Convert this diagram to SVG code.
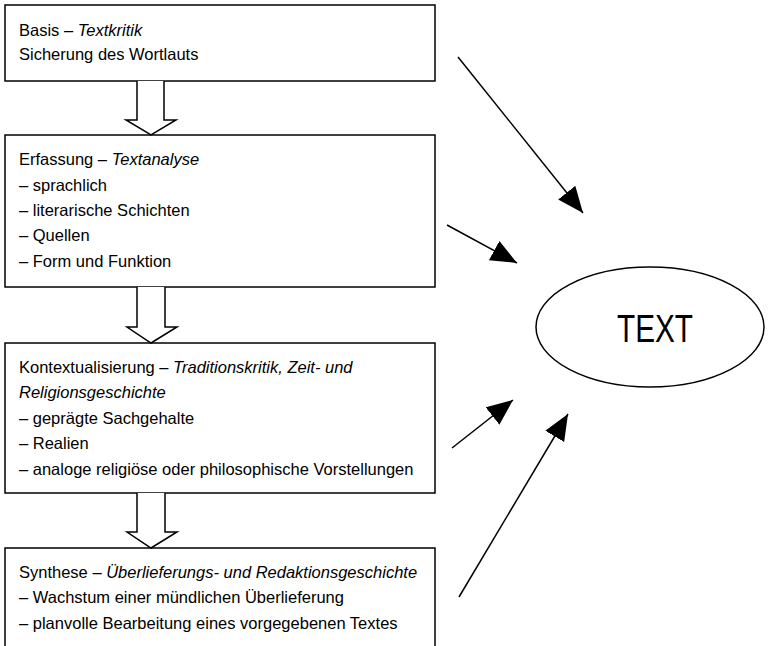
<svg xmlns="http://www.w3.org/2000/svg" width="769" height="646" viewBox="0 0 769 646">
<style>
.box{fill:#fff;stroke:#000;stroke-width:1.5}
.t{font-family:"Liberation Sans",Arial,sans-serif;font-size:16.5px;fill:#000}
.i{font-style:italic}
.hollow{fill:#fff;stroke:#000;stroke-width:1.5;stroke-linejoin:miter}
.conn{stroke:#000;stroke-width:1.5;fill:none}
.big{font-family:"Liberation Sans",Arial,sans-serif;font-size:39px;fill:#000}
</style>
<defs>
<marker id="ah" markerUnits="userSpaceOnUse" markerWidth="28" markerHeight="24" refX="26" refY="11" orient="auto">
<path d="M0,0 L26,11 L0,22 z" fill="#000"/>
</marker>
</defs>
<rect width="769" height="646" fill="#fff"/>
<g id="basis">
<rect class="box" x="5" y="5" width="430" height="76"/>
<text class="t" x="19" y="36">Basis – <tspan class="i">Textkritik</tspan></text>
<text class="t" x="19" y="60">Sicherung des Wortlauts</text>
</g>
<g id="erfassung">
<rect class="box" x="5" y="135" width="430" height="152"/>
<text class="t" x="19" y="165">Erfassung – <tspan class="i">Textanalyse</tspan></text>
<text class="t" x="19" y="191">– sprachlich</text>
<text class="t" x="19" y="216">– literarische Schichten</text>
<text class="t" x="19" y="241">– Quellen</text>
<text class="t" x="19" y="267">– Form und Funktion</text>
</g>
<g id="kontext">
<rect class="box" x="5" y="343" width="430" height="150"/>
<text class="t" x="19" y="373">Kontextualisierung – <tspan class="i">Traditionskritik, Zeit- und</tspan></text>
<text class="t i" x="19" y="398">Religionsgeschichte</text>
<text class="t" x="19" y="424">– geprägte Sachgehalte</text>
<text class="t" x="19" y="449">– Realien</text>
<text class="t" x="19" y="475">– analoge religiöse oder philosophische Vorstellungen</text>
</g>
<g id="synthese">
<rect class="box" x="5" y="548" width="430" height="110"/>
<text class="t" x="19" y="578">Synthese – <tspan class="i">Überlieferungs- und Redaktionsgeschichte</tspan></text>
<text class="t" x="19" y="603">– Wachstum einer mündlichen Überlieferung</text>
<text class="t" x="19" y="629">– planvolle Bearbeitung eines vorgegebenen Textes</text>
</g>
<g id="text-node">
<ellipse cx="650" cy="327" rx="114" ry="60" fill="#fff" stroke="#000" stroke-width="1.5"/>
<text class="big" x="655" y="342" text-anchor="middle" textLength="76" lengthAdjust="spacingAndGlyphs">TEXT</text>
</g>
<g id="connectors">
<path class="hollow" d="M137,81 V120 H126 L151,135 L176,120 H164 V81"/>
<path class="hollow" d="M137,287 V327 H127 L151,343 L177,327 H165 V287"/>
<path class="hollow" d="M137,493 V532 H127 L151,548 L177,532 H165 V493"/>
<line class="conn" x1="458" y1="57" x2="583" y2="213" marker-end="url(#ah)"/>
<line class="conn" x1="447" y1="225" x2="517" y2="263" marker-end="url(#ah)"/>
<line class="conn" x1="452" y1="448" x2="513" y2="400" marker-end="url(#ah)"/>
<line class="conn" x1="459" y1="597" x2="568" y2="414" marker-end="url(#ah)"/>
</g>
</svg>
